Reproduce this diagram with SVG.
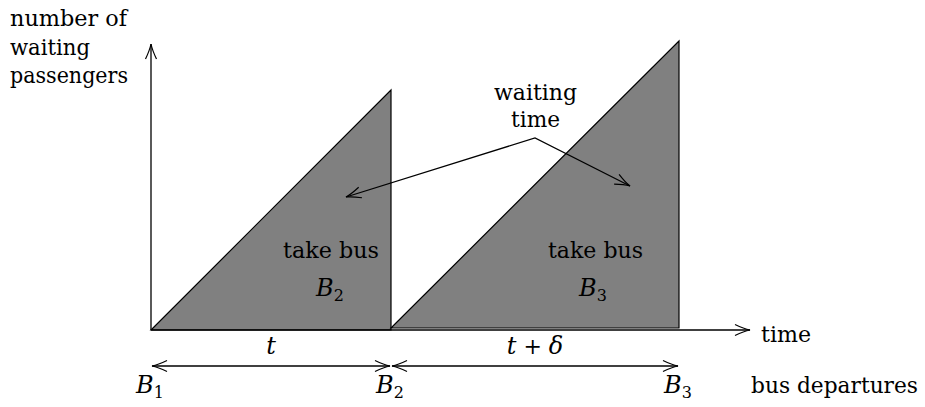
<svg xmlns="http://www.w3.org/2000/svg" width="925" height="407" viewBox="0 0 925 407">
<style>
text{font-family:"DejaVu Serif","Liberation Serif",serif;font-size:22px;fill:#000}
.i{font-style:italic}
.b{font-size:24px}
.sub{font-size:16px;font-style:normal}
.ln{fill:none;stroke:#000;stroke-width:1.3}
.area{fill:#808080;stroke:#000;stroke-width:1.2;stroke-linejoin:miter}
</style>
<defs>
<marker id="ah" markerUnits="userSpaceOnUse" markerWidth="24" markerHeight="16" viewBox="-18 -8 20 16" refX="0" refY="0" orient="auto-start-reverse" overflow="visible">
<path d="M -15 -5.5 Q -6 -1.2 0 0 Q -6 1.2 -15 5.5" fill="none" stroke="#000" stroke-width="1.2"/>
</marker>
</defs>
<rect width="925" height="407" fill="#fff"/>
<g id="area-B2"><polygon class="area" points="151,330 391,90 391,330"/></g>
<g id="area-B3"><polygon class="area" points="391,328 679,41 679,328"/></g>
<g id="connectors">
<line class="ln" x1="151" y1="330" x2="151" y2="44" marker-end="url(#ah)"/>
<line class="ln" x1="151" y1="330" x2="750" y2="330" marker-end="url(#ah)"/>
<polyline class="ln" points="346,197 535,138 630,186" marker-start="url(#ah)" marker-end="url(#ah)"/>
<line class="ln" x1="152" y1="366" x2="390" y2="366" marker-start="url(#ah)" marker-end="url(#ah)"/>
<line class="ln" x1="392" y1="366" x2="678" y2="366" marker-start="url(#ah)" marker-end="url(#ah)"/>
</g>
<g id="y-label">
<text x="10" y="26" textLength="117" lengthAdjust="spacingAndGlyphs">number of</text>
<text x="10" y="55" textLength="80" lengthAdjust="spacingAndGlyphs">waiting</text>
<text x="10" y="83" textLength="118" lengthAdjust="spacingAndGlyphs">passengers</text>
</g>
<g id="waiting-time">
<text x="494" y="100" textLength="83" lengthAdjust="spacingAndGlyphs">waiting</text>
<text x="511" y="127" textLength="49" lengthAdjust="spacingAndGlyphs">time</text>
</g>
<g id="take-B2">
<text x="283" y="258" textLength="96" lengthAdjust="spacingAndGlyphs">take bus</text>
<text class="i b" x="316" y="296">B<tspan class="sub" dy="5">2</tspan></text>
</g>
<g id="take-B3">
<text x="548" y="258" textLength="95" lengthAdjust="spacingAndGlyphs">take bus</text>
<text class="i b" x="579" y="296">B<tspan class="sub" dy="5">3</tspan></text>
</g>
<g id="time-label"><text x="761" y="342" textLength="50" lengthAdjust="spacingAndGlyphs">time</text></g>
<g id="interval-t"><text class="i b" x="271" y="354" text-anchor="middle">t</text></g>
<g id="interval-td"><text x="535" y="354" text-anchor="middle"><tspan class="i b">t</tspan> + <tspan class="i b">δ</tspan></text></g>
<g id="B1"><text class="i b" x="136" y="393">B<tspan class="sub" dy="5">1</tspan></text></g>
<g id="B2"><text class="i b" x="376" y="393">B<tspan class="sub" dy="5">2</tspan></text></g>
<g id="B3"><text class="i b" x="664" y="393">B<tspan class="sub" dy="5">3</tspan></text></g>
<g id="bus-departures"><text x="751" y="393" textLength="167" lengthAdjust="spacingAndGlyphs">bus departures</text></g>
</svg>
